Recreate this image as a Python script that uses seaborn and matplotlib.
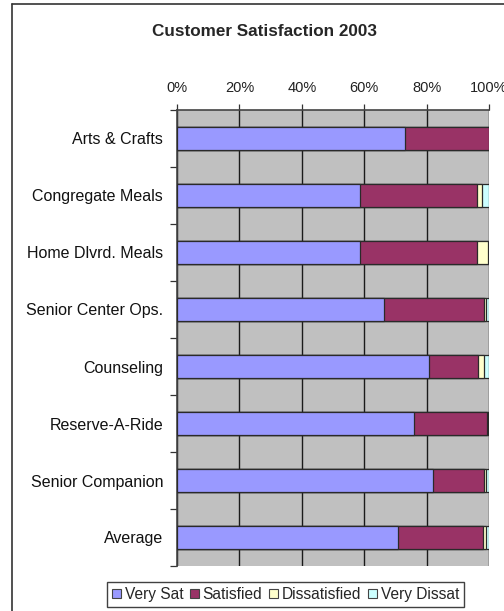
import numpy as np
import pandas as pd
import matplotlib
matplotlib.use("Agg")
import matplotlib.pyplot as plt
import seaborn as sns
from matplotlib.ticker import FixedLocator, FuncFormatter
from matplotlib.lines import Line2D
from matplotlib.patches import Patch

categories = ["Arts & Crafts", "Congregate Meals", "Home Dlvrd. Meals", "Senior Center Ops.",
              "Counseling", "Reserve-A-Ride", "Senior Companion", "Average"]
very_sat = [73.2, 58.7, 58.7, 66.5, 80.7, 75.9, 82.0, 70.8]
satisfied = [26.8, 37.6, 37.6, 31.8, 15.9, 23.5, 16.5, 27.2]
dissatisfied = [0.0, 1.6, 3.4, 0.6, 1.9, 0.3, 0.5, 1.0]
very_dissat = [0.0, 2.1, 0.3, 1.1, 1.5, 0.3, 1.0, 1.0]

series = ["Very Sat", "Satisfied", "Dissatisfied", "Very Dissat"]
colors = ["#9999FF", "#993366", "#FFFFCC", "#CCFFFF"]

df = pd.DataFrame({"cat": categories, "Very Sat": very_sat, "Satisfied": satisfied,
                   "Dissatisfied": dissatisfied, "Very Dissat": very_dissat})
cum = df[series].cumsum(axis=1)

sns.set_theme(style="white")
plt.rcParams['font.family'] = ['Liberation Sans', 'DejaVu Sans']

fig = plt.figure(figsize=(5.04, 6.11), dpi=100)
ax = fig.add_axes([177/504, 1 - 566/611, 312/504, (566 - 110)/611])
ax.set_facecolor("#C0C0C0")

# stacked bars: draw cumulative totals from the outermost layer inwards
for s, c in reversed(list(zip(series, colors))):
    sns.barplot(x=cum[s], y=df["cat"], orient="h", color=c, width=0.41,
                edgecolor="#2a2a2a", linewidth=0.9, saturation=1, ax=ax, zorder=3)

ax.set_xlim(0, 100)
ax.set_ylim(7.5, -0.5)
ax.set_xlabel(""); ax.set_ylabel("")
ax.xaxis.tick_top()
ax.xaxis.set_major_locator(FixedLocator([0, 20, 40, 60, 80, 100]))
ax.xaxis.set_major_formatter(FuncFormatter(lambda v, p: f"{v:.0f}%"))
ax.tick_params(axis="x", which="major", direction="out", length=4, width=0.9, color="#333333",
               labelsize=10.5, labelcolor="#222222", pad=6.5, top=True, bottom=False)
ax.tick_params(axis="y", which="major", length=0, pad=10, labelsize=11.5, labelcolor="#111111")
ax.yaxis.set_minor_locator(FixedLocator(np.arange(-0.5, 8, 1)))
ax.tick_params(axis="y", which="minor", direction="out", length=5, width=0.9, color="#333333", left=True)

ax.set_axisbelow(True)
ax.grid(axis="x", color="#1a1a1a", linewidth=1.0)
ax.grid(axis="y", visible=False)
for side in ["right", "bottom"]:
    ax.spines[side].set_visible(False)
for side in ["top", "left"]:
    ax.spines[side].set_color("#444444")
    ax.spines[side].set_linewidth(1.2)

fig.text(265/504, 1 - 31/611, "Customer Satisfaction 2003", ha="center", va="center",
         fontsize=12.3, fontweight="bold")

handles = [Patch(facecolor=c, edgecolor="#444444", linewidth=0.8) for c in colors]
leg = fig.legend(handles, series, loc="center", bbox_to_anchor=(285.5/504, 1 - 594.5/611), ncol=4,
                 fontsize=11.2, frameon=True, fancybox=False, handlelength=0.55, handleheight=0.55,
                 handletextpad=0.25, columnspacing=0.45, borderpad=0.3, borderaxespad=0)
leg.get_frame().set_edgecolor("#111111")
leg.get_frame().set_linewidth(1.0)

# outer chart-area border (left and top visible in the crop)
fig.add_artist(Line2D([12/504, 12/504], [0, 1 - 4/611], transform=fig.transFigure, color="#333333", lw=1.2))
fig.add_artist(Line2D([12/504, 1], [1 - 4/611, 1 - 4/611], transform=fig.transFigure, color="#333333", lw=1.2))

fig.savefig("out.png", dpi=100, facecolor="white")
